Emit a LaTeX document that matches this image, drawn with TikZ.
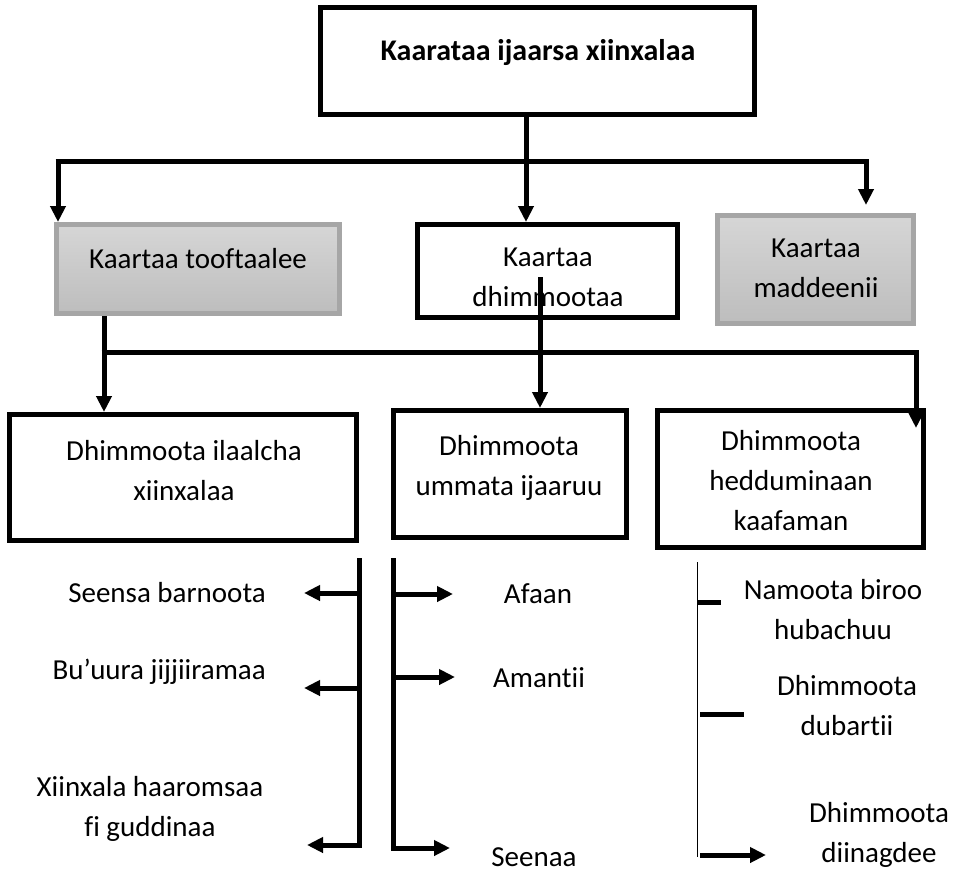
\documentclass[tikz,border=0pt]{standalone}
\usepackage{fontspec}
\setmainfont{Carlito}[RawFeature={-liga;-clig}]
\usetikzlibrary{arrows.meta,calc}
\definecolor{gborder}{HTML}{A6A6A6}
\definecolor{gtop}{HTML}{D6D6D6}
\definecolor{gbot}{HTML}{BDBDBD}
\begin{document}
\begin{tikzpicture}[x=1pt,y=-1pt,
  box/.style={draw=black,line width=5pt,rectangle,inner sep=0pt},
  graybox/.style={draw=gborder,line width=5pt,rectangle,inner sep=0pt,top color=gtop,bottom color=gbot},
  txt/.style={font=\fontsize{29}{40}\selectfont,align=center,inner sep=0pt},
  ln/.style={line width=5pt},
  arr/.style={line width=5pt,-{Triangle[length=16pt,width=15pt]}},
  thin/.style={line width=1pt}]
\useasboundingbox (0,0) rectangle (958,872);
% boxes
\node[box,minimum width=434,minimum height=107] (top) at (537.5,61) {};
\node[graybox,minimum width=283,minimum height=89] (tooft) at (198,269) {};
\node[box,minimum width=260,minimum height=93] (dhim) at (547.5,271) {};
\node[graybox,minimum width=196,minimum height=108] (madd) at (815.5,269.5) {};
\node[box,minimum width=347,minimum height=126] (ilaal) at (183,477.5) {};
\node[box,minimum width=233,minimum height=127] (umm) at (510,474) {};
\node[box,minimum width=266,minimum height=137] (hedd) at (790.5,479) {};
% box texts
\node[txt,font=\fontsize{30}{40}\selectfont\bfseries] (ttop) at (538,53) {Kaarataa ijaarsa xiinxalaa};
\node[txt] (ttooft) at (198,259) {Kaartaa tooftaalee};
\node[txt] (tdhim) at (548,277) {Kaartaa\\dhimmootaa};
\node[txt] (tmadd) at (816,268) {Kaartaa\\maddeenii};
\node[txt] (tilaal) at (184,471) {Dhimmoota ilaalcha\\xiinxalaa};
\node[txt] (tumm) at (509,468) {Dhimmoota\\ummata ijaaruu};
\node[txt] (thedd) at (791,481) {Dhimmoota\\hedduminaan\\kaafaman};
% first level connectors
\coordinate (b1l) at (58,161);
\coordinate (b1m) at (526,161);
\coordinate (b1r) at (866,161);
\draw[ln] (top.south -| b1m) -- (b1m);
\draw[ln] ($(b1l)+(-2.5,0)$) -- ($(b1r)+(2.5,0)$);
\draw[arr] (b1l) -- (b1l |- tooft.north);
\draw[arr] (b1m) -- (b1m |- dhim.north);
\draw[arr] (b1r) -- ($(b1r |- madd.north)+(0,-8)$);
% second level connectors
\coordinate (b2l) at (104,352);
\coordinate (b2r) at (916,352);
\coordinate (dst) at (540,277);
\draw[ln] (tooft.south -| b2l) -- (b2l);
\draw[arr] (b2l) -- (b2l |- ilaal.north);
\draw[arr] (dst) -- (dst |- umm.north);
\draw[arr] ($(b2l)+(-2.5,0)$) -- (b2r) -- ($(b2r |- hedd.north)+(0,20)$);
% left group
\node[txt,anchor=east] (s1) at (266,593) {Seensa barnoota};
\node[txt,anchor=east] (s2) at (266,672) {Bu’uura jijjiiramaa};
\node[txt] (s3) at (150,809) {Xiinxala haaromsaa\\fi guddinaa};
\coordinate (lv1) at (359,558);
\coordinate (lv2) at (359,848);
\draw[ln] (lv1) -- (lv2);
\coordinate (a1) at (304,593);
\coordinate (a2) at (304,688);
\coordinate (a3) at (307,845);
\draw[arr] (lv1 |- a1) -- (a1);
\draw[arr] (lv1 |- a2) -- (a2);
\draw[arr] (lv1 |- a3) -- (a3);
% middle group
\node[txt] (m1) at (538,594) {Afaan};
\node[txt] (m2) at (539,678) {Amantii};
\node[txt] (m3) at (534,857) {Seenaa};
\coordinate (mv1) at (393,558);
\coordinate (mv2) at (393,848);
\coordinate (c1) at (453,594);
\coordinate (c2) at (455,677);
\coordinate (c3) at (450,848);
\draw[arr] (mv1) -- (mv2) -- (c3);
\draw[arr] (mv1 |- c1) -- (c1);
\draw[arr] (mv1 |- c2) -- (c2);
% right group
\node[txt] (r1) at (833,610) {Namoota biroo\\hubachuu};
\node[txt] (r2) at (847,706) {Dhimmoota\\dubartii};
\node[txt] (r3) at (879,835) {Dhimmoota\\diinagdee};
\coordinate (rv1) at (697,562);
\coordinate (rv2) at (697,857);
\draw[thin] (rv1) -- (rv2);
\coordinate (d1) at (721,602);
\coordinate (d2) at (744,714);
\coordinate (d3) at (766,855);
\draw[ln] (rv1 |- d1) -- (d1);
\draw[ln] ($(rv1 |- d2)+(3,0)$) -- (d2);
\draw[arr] ($(rv1 |- d3)+(3,0)$) -- (d3);
\end{tikzpicture}
\end{document}
